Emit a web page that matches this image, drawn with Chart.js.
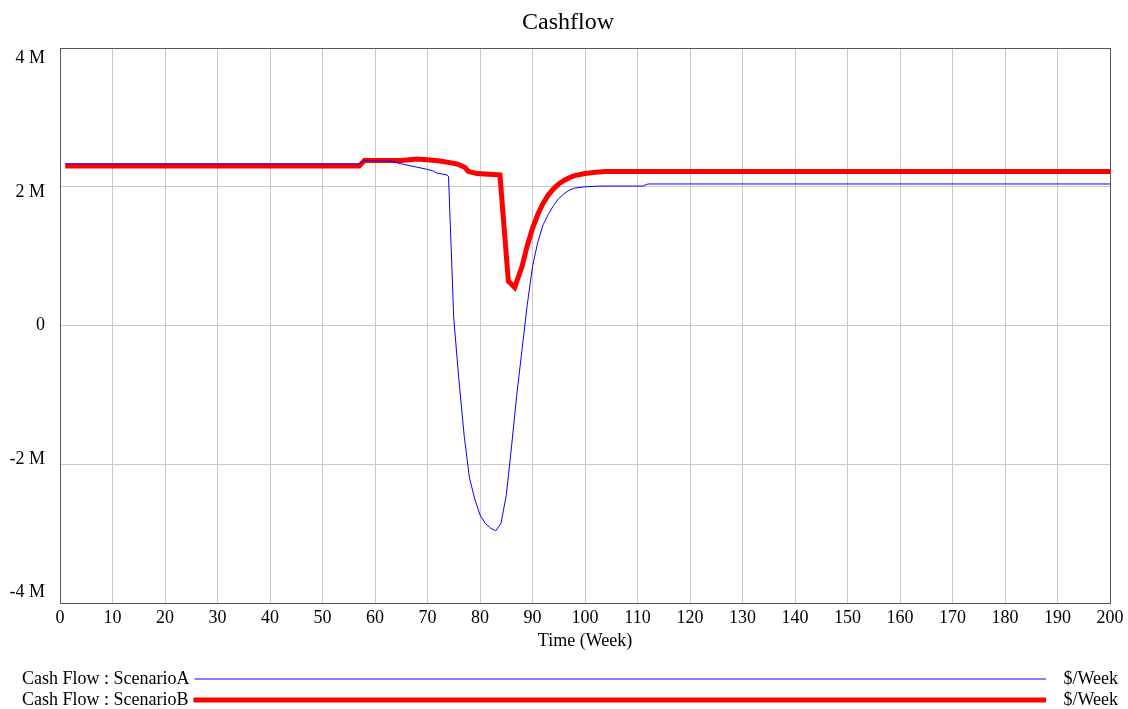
<!DOCTYPE html>
<html>
<head>
<meta charset="utf-8">
<title>Cashflow</title>
<script src="https://cdn.jsdelivr.net/npm/chart.js@4/dist/chart.umd.min.js"></script>
<style>
  html, body { margin: 0; padding: 0; background: #fff; }
  #wrap { width: 1128px; height: 709px; }
</style>
</head>
<body>
<div id="wrap"><canvas id="cashChart" width="1128" height="709"></canvas></div>
<script>
// Globals
var FONT = "'Liberation Serif', 'Times New Roman', serif";
var UNIT = "$/Week";

// ----------------- DATA -----------------
// Scenario A: week and cash flow (millions of $/week)
var weeksA = [1, 57, 58, 63, 65, 70, 71, 71.7, 73.7, 74, 75, 76, 77, 78, 79, 80, 81, 82, 83,
              84, 85, 86, 87, 88, 89, 90, 91, 92, 93, 94, 95, 96, 97, 98, 100, 103, 111, 112, 200];
var cashA  = [2.33, 2.33, 2.38, 2.37, 2.33, 2.25, 2.23, 2.20, 2.17, 2.15, 0.1, -0.8, -1.6, -2.2, -2.5, -2.73, -2.85, -2.92, -2.96,
              -2.85, -2.45, -1.75, -1.0, -0.35, 0.3, 0.85, 1.2, 1.45, 1.6, 1.73, 1.83, 1.9, 1.95, 1.98, 2.0, 2.01, 2.01, 2.04, 2.04];

// Scenario B: week and cash flow (millions of $/week)
var weeksB = [1, 57, 58, 65, 68, 70, 72.4, 75.6, 77.1, 77.8, 79.4, 83.8, 85.4, 86.6, 88, 89, 90, 91,
              92, 93, 94, 95, 96, 97, 98, 100, 102, 104, 200];
var cashB  = [2.30, 2.30, 2.38, 2.38, 2.40, 2.39, 2.37, 2.33, 2.28, 2.22, 2.19, 2.17, 0.64, 0.55, 0.85, 1.15, 1.4, 1.6,
              1.76, 1.88, 1.97, 2.04, 2.09, 2.13, 2.16, 2.19, 2.21, 2.22, 2.22];

var seriesNames = ["Cash Flow : ScenarioA", "Cash Flow : ScenarioB"];
var yTicks = [-4, -2, 0, 2, 4];

// ----------------- HELPERS -----------------
function toPoints(weeks, vals) {
    var pts = [];
    for (var i = 0; i < weeks.length; i++) {
        pts.push({ x: weeks[i], y: vals[i] * 1e6 });
    }
    return pts;
}

function fmtMillions(v) {
    var m = Math.round(v / 1e6);
    return m === 0 ? "0" : m + " M";
}

// frame around the plot area
var framePlugin = {
    id: "frame",
    afterDraw: function(chart) {
        var a = chart.chartArea, c = chart.ctx;
        c.save();
        c.strokeStyle = "#555";
        c.lineWidth = 1;
        c.strokeRect(Math.round(a.left) + 0.5, Math.round(a.top) + 0.5,
                     Math.round(a.right - a.left), Math.round(a.bottom - a.top));
        c.restore();
    }
};

// y labels sit a little inside the top and bottom of the frame
var yLabels = {
    id: "yLabels",
    afterDraw: function(chart) {
        var s = chart.scales.y, a = chart.chartArea, c = chart.ctx;
        var mid = (a.top + a.bottom) / 2;
        c.save();
        c.font = "18px " + FONT;
        c.fillStyle = "#000";
        c.textAlign = "right";
        c.textBaseline = "middle";
        s.ticks.forEach(function(t) {
            var y = mid + (s.getPixelForValue(t.value) - mid) * 0.962;
            c.fillText(fmtMillions(t.value), a.left - 15, y);
        });
        c.restore();
    }
};

// legend rows at the bottom: label, sample line, unit
var rowLegend = {
    id: "rowLegend",
    afterDraw: function(chart) {
        var c = chart.ctx;
        var rows = [679, 700];
        c.save();
        c.font = "18px " + FONT;
        c.textBaseline = "middle";
        chart.data.datasets.forEach(function(ds, i) {
            var y = rows[i];
            c.fillStyle = "#000";
            c.textAlign = "left";
            c.fillText(ds.label, 22, y);
            var tw = c.measureText(ds.label).width;
            c.textAlign = "right";
            c.fillText(UNIT, 1118, y);
            c.beginPath();
            c.strokeStyle = ds.borderColor;
            c.lineWidth = ds.borderWidth;
            c.moveTo(22 + tw + 5, y);
            c.lineTo(1046, y);
            c.stroke();
        });
        c.restore();
    }
};

// ----------------- CHART -----------------
var chart = new Chart(document.getElementById("cashChart"), {
    type: "line",
    data: {
        datasets: [{
            label: seriesNames[0],
            data: toPoints(weeksA, cashA),
            borderColor: "#0000ff",
            borderWidth: 1,
            pointRadius: 0,
            tension: 0
        }, {
            label: seriesNames[1],
            data: toPoints(weeksB, cashB),
            borderColor: "#ff0000",
            borderWidth: 5,
            pointRadius: 0,
            tension: 0
        }]
    },
    options: {
        responsive: false,
        animation: false,
        layout: { padding: { left: 26, right: 18, top: 0, bottom: 54.8 } },
        plugins: {
            legend: { display: false },
            tooltip: { enabled: false },
            title: {
                display: true,
                text: "Cashflow",
                color: "#000",
                font: { family: FONT, size: 24, weight: "normal" },
                padding: { top: 8, bottom: 11.2 }
            }
        },
        scales: {
            x: {
                type: "linear",
                min: 0,
                max: 200,
                border: { display: false },
                grid: { color: "#c8c8c8", drawTicks: false },
                ticks: {
                    stepSize: 10,
                    color: "#000",
                    padding: 4,
                    maxRotation: 0,
                    font: { family: FONT, size: 18 }
                },
                title: {
                    display: true,
                    text: "Time (Week)",
                    color: "#000",
                    font: { family: FONT, size: 18 },
                    padding: { top: -2.4, bottom: 2.4 }
                }
            },
            y: {
                min: -4e6,
                max: 4e6,
                border: { display: false },
                grid: { color: "#c8c8c8", drawTicks: false },
                afterFit: function(s) { s.width = 34; },
                afterBuildTicks: function(s) {
                    s.ticks = yTicks.map(function(v) { return { value: v * 1e6 }; });
                },
                ticks: { display: false }
            }
        }
    },
    plugins: [framePlugin, yLabels, rowLegend]
});
</script>
</body>
</html>
